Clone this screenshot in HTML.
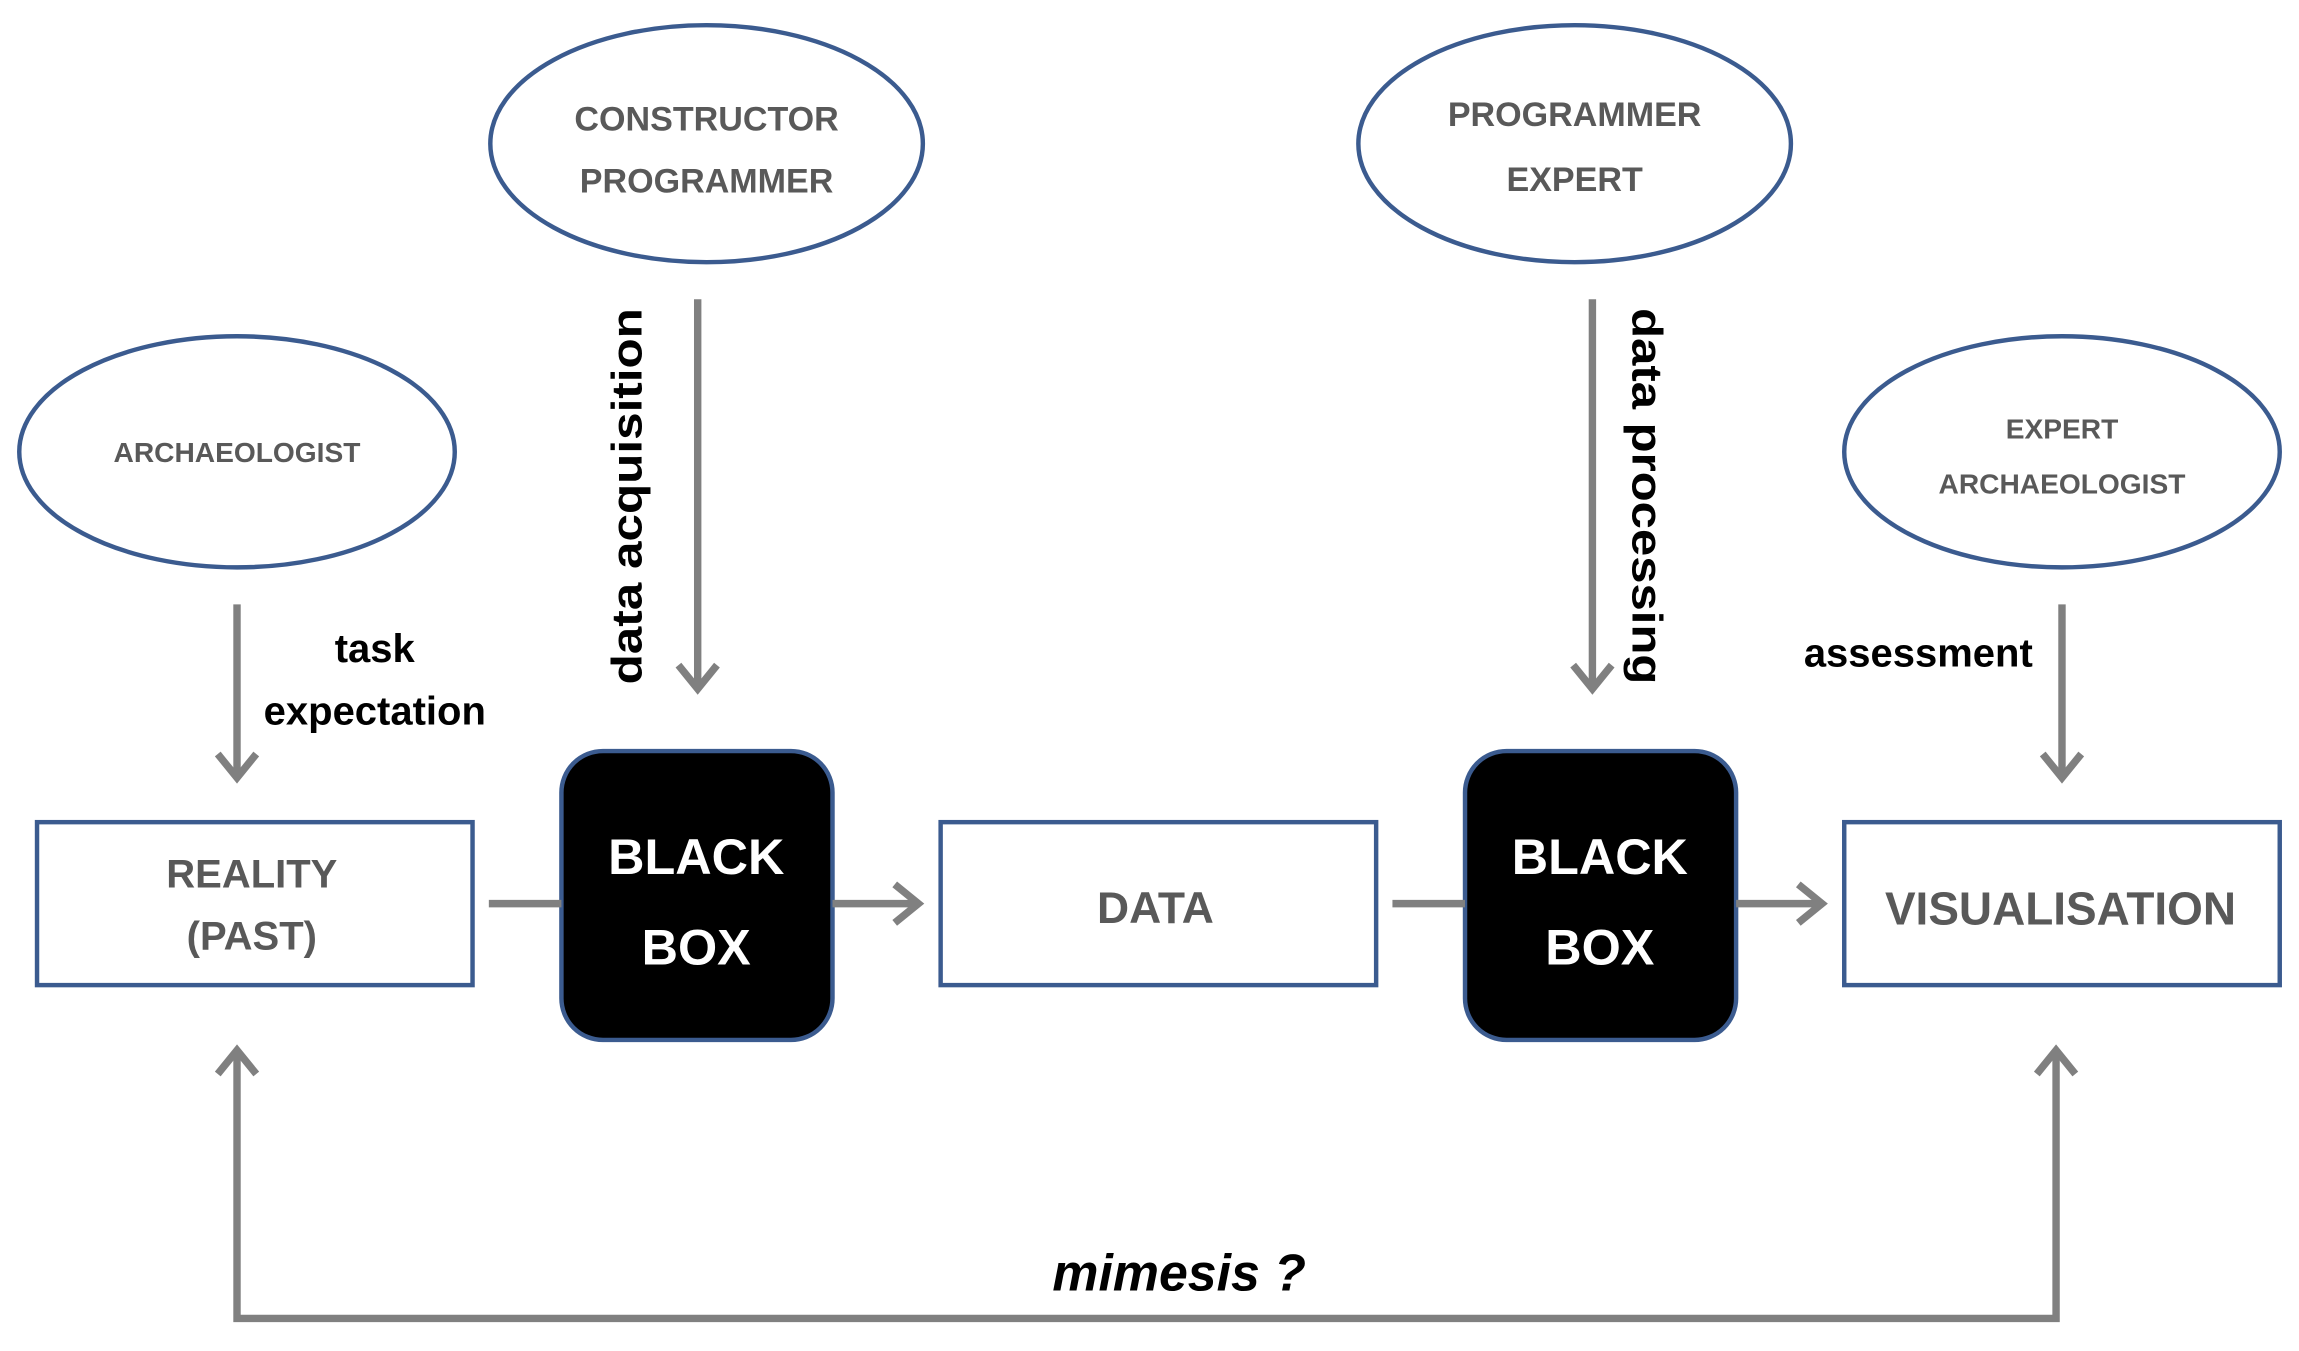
<!DOCTYPE html>
<html><head><meta charset="utf-8"><style>
html,body{margin:0;padding:0;background:#fff;}
svg{display:block;}
text{font-family:"Liberation Sans",sans-serif;}
</style></head><body>
<svg width="2299" height="1351" viewBox="0 0 1552 912" preserveAspectRatio="none" xmlns="http://www.w3.org/2000/svg">
<g fill="none" stroke="#3b5b8f" stroke-width="3">
<ellipse cx="477" cy="97" rx="146" ry="80"/>
<ellipse cx="1063" cy="97" rx="146" ry="80"/>
<ellipse cx="160" cy="305" rx="147" ry="78"/>
<ellipse cx="1392" cy="305" rx="147" ry="78"/>
<rect x="25" y="555" width="294" height="110"/>
<rect x="635" y="555" width="294" height="110"/>
<rect x="1245" y="555" width="294" height="110"/>
</g>
<rect x="379" y="507" width="183" height="195" rx="28" fill="#000" stroke="#3b5b8f" stroke-width="3"/>
<rect x="989" y="507" width="183" height="195" rx="28" fill="#000" stroke="#3b5b8f" stroke-width="3"/>
<g stroke="#808080" stroke-width="5" fill="none" stroke-linejoin="miter">
<line x1="160" y1="408" x2="160" y2="524"/><polyline points="147,509 160,525 173,509"/>
<line x1="471" y1="202" x2="471" y2="464"/><polyline points="458,449 471,465 484,449"/>
<line x1="1075" y1="202" x2="1075" y2="464"/><polyline points="1062,449 1075,465 1088,449"/>
<line x1="1392" y1="408" x2="1392" y2="524"/><polyline points="1379,509 1392,525 1405,509"/>
<line x1="330" y1="610" x2="379" y2="610"/>
<line x1="562" y1="610" x2="619" y2="610"/><polyline points="604,597 620,610 604,623"/>
<line x1="940" y1="610" x2="989" y2="610"/>
<line x1="1172" y1="610" x2="1229" y2="610"/><polyline points="1214,597 1230,610 1214,623"/>
<polyline points="160,710 160,890 1388,890 1388,710"/>
<polyline points="147,725 160,709 173,725"/>
<polyline points="1375,725 1388,709 1401,725"/>
</g>
<g fill="#595959" text-anchor="middle" font-weight="bold">
<text x="477" y="88" font-size="23">CONSTRUCTOR</text>
<text x="477" y="130" font-size="23">PROGRAMMER</text>
<text x="1063" y="85" font-size="23">PROGRAMMER</text>
<text x="1063" y="129" font-size="23">EXPERT</text>
<text x="160" y="312" font-size="19">ARCHAEOLOGIST</text>
<text x="1392" y="296" font-size="19">EXPERT</text>
<text x="1392" y="333" font-size="19">ARCHAEOLOGIST</text>
<text x="170" y="599" font-size="27">REALITY</text>
<text x="170" y="641" font-size="27">(PAST)</text>
<text x="780" y="623" font-size="30">DATA</text>
<text x="1391" y="624" font-size="31">VISUALISATION</text>
</g>
<g fill="#fff" text-anchor="middle" font-weight="bold" font-size="34">
<text x="470" y="590">BLACK</text>
<text x="470" y="651">BOX</text>
<text x="1080" y="590">BLACK</text>
<text x="1080" y="651">BOX</text>
</g>
<g fill="#000" font-weight="bold" font-size="27" text-anchor="middle">
<text x="253" y="447">task</text>
<text x="253" y="489">expectation</text>
<text x="1295" y="450">assessment</text>
<text transform="translate(433,335) rotate(-90)" font-size="29" textLength="254" lengthAdjust="spacingAndGlyphs">data acquisition</text>
<text transform="translate(1102,335) rotate(90)" font-size="29" textLength="254" lengthAdjust="spacingAndGlyphs">data processing</text>
<text x="796" y="871" font-size="35" font-style="italic">mimesis  ?</text>
</g>
</svg>
</body></html>
